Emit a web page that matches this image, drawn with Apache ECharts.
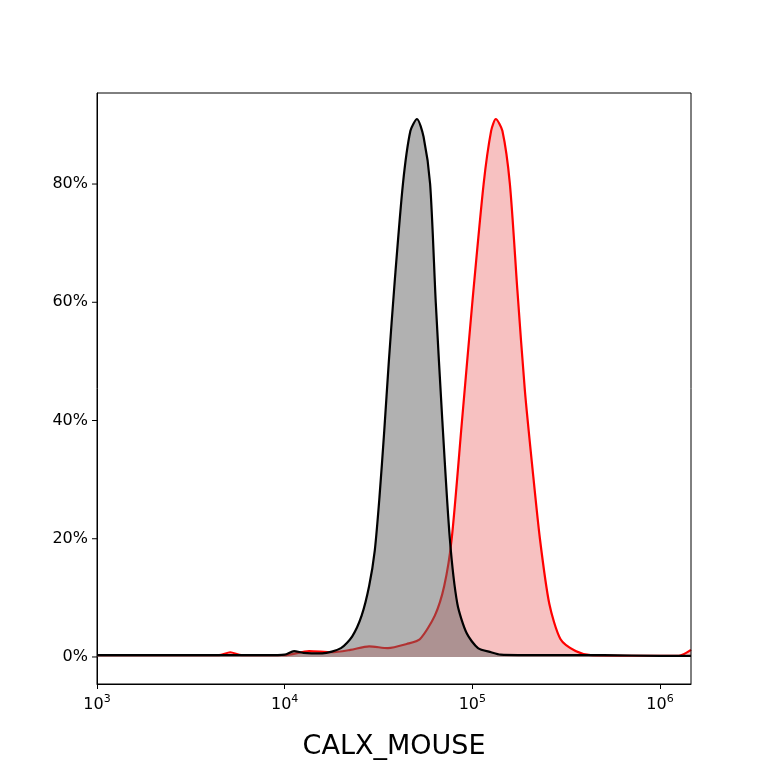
<!DOCTYPE html>
<html><head><meta charset="utf-8">
<script src="https://cdn.jsdelivr.net/npm/echarts@6/dist/echarts.min.js"></script>
<style>html,body{margin:0;background:#fff}#c{width:768px;height:768px}</style>
</head><body><div id="c"></div>
<script>
// x in log10 units, y in percent
var blackX = [3.0, 3.5, 3.9, 4.0, 4.05, 4.1, 4.2, 4.3, 4.36, 4.41, 4.45, 4.48, 4.505, 4.53, 4.555, 4.585, 4.63, 4.67, 4.705, 4.74, 4.775, 4.805, 4.84, 4.88, 4.92, 4.97, 5.03, 5.1, 5.15, 5.4, 5.7, 6.0, 6.165];
var blackY = [0.3, 0.3, 0.3, 0.4, 1.0, 0.7, 0.6, 1.5, 3.5, 7, 12, 18, 27, 38, 50, 63, 80, 89, 91, 88, 80, 60, 40, 20, 9, 4, 1.5, 0.8, 0.4, 0.3, 0.3, 0.2, 0.2];
var redX = [3.0, 3.5, 3.65, 3.71, 3.77, 4.0, 4.13, 4.25, 4.35, 4.45, 4.55, 4.65, 4.72, 4.8, 4.85, 4.89, 4.945, 5.0, 5.06, 5.1, 5.125, 5.16, 5.2, 5.24, 5.28, 5.32, 5.36, 5.41, 5.47, 5.55, 5.63, 5.8, 6.1, 6.165];
var redY = [0.3, 0.3, 0.3, 0.8, 0.3, 0.3, 1.0, 0.8, 1.2, 1.8, 1.5, 2.2, 3, 7, 12, 20, 40, 60, 80, 89, 91, 89, 80, 62, 45, 32, 20, 9, 3, 1, 0.3, 0.2, 0.2, 1.2];
var yTicks = [0, 20, 40, 60, 80];

function pairs(xs, ys) { return xs.map(function (x, i) { return [x, ys[i]]; }); }

var chart = echarts.init(document.getElementById('c'));
chart.setOption({
  animation: false,
  grid: { left: 97, right: 77, top: 93, bottom: 84 },
  xAxis: {
    type: 'value', min: 3, max: 6.165, interval: 1,
    name: 'CALX_MOUSE', nameLocation: 'middle', nameGap: 49,
    nameTextStyle: { fontSize: 27, color: '#000', fontFamily: 'DejaVu Sans' },
    axisLine: { onZero: false, lineStyle: { color: '#000' } },
    axisTick: { lineStyle: { color: '#000' }, length: 5 },
    splitLine: { show: false },
    axisLabel: {
      showMaxLabel: false, margin: 10,
      formatter: function (v) { return '{b|10}{s|' + Math.round(v) + '}'; },
      rich: {
        b: { fontSize: 16, color: '#000', fontFamily: 'DejaVu Sans' },
        s: { fontSize: 11, color: '#000', fontFamily: 'DejaVu Sans', verticalAlign: 'top', padding: [0, 0, 10, 0] }
      }
    }
  },
  yAxis: {
    type: 'value', min: -4.57, max: 95.4,
    axisLine: { show: true, lineStyle: { color: '#000' } },
    axisTick: { show: false },
    splitLine: { show: false },
    axisLabel: { show: false }
  },
  series: [
    {
      type: 'line', data: pairs(redX, redY), smooth: 0.25, symbol: 'none',
      lineStyle: { color: '#ff0000', width: 2.2 },
      areaStyle: { color: 'rgba(235,100,100,0.4)', opacity: 1, origin: 0 }, z: 2
    },
    {
      type: 'line', data: pairs(blackX, blackY), smooth: 0.25, symbol: 'none',
      lineStyle: { color: '#000', width: 2.2 },
      areaStyle: { color: 'rgba(100,100,100,0.5)', opacity: 1, origin: 0 }, z: 3
    }
  ]
});
var g = [];
yTicks.forEach(function (t) {
  var p = chart.convertToPixel({ gridIndex: 0 }, [3, t]);
  g.push({ type: 'line', shape: { x1: p[0] - 5, y1: p[1], x2: p[0], y2: p[1] }, style: { stroke: '#000', lineWidth: 1 } });
  g.push({ type: 'text', x: p[0] - 9, y: p[1], style: { text: t + '%', fontSize: 16, fill: '#000', fontFamily: 'DejaVu Sans', align: 'right', verticalAlign: 'middle' } });
});
g.push({ type: 'rect', shape: { x: 97, y: 93, width: 594, height: 591 }, style: { fill: 'none', stroke: '#000', lineWidth: 1 }, z: 10 });
chart.setOption({ graphic: g });
</script>
</body></html>
